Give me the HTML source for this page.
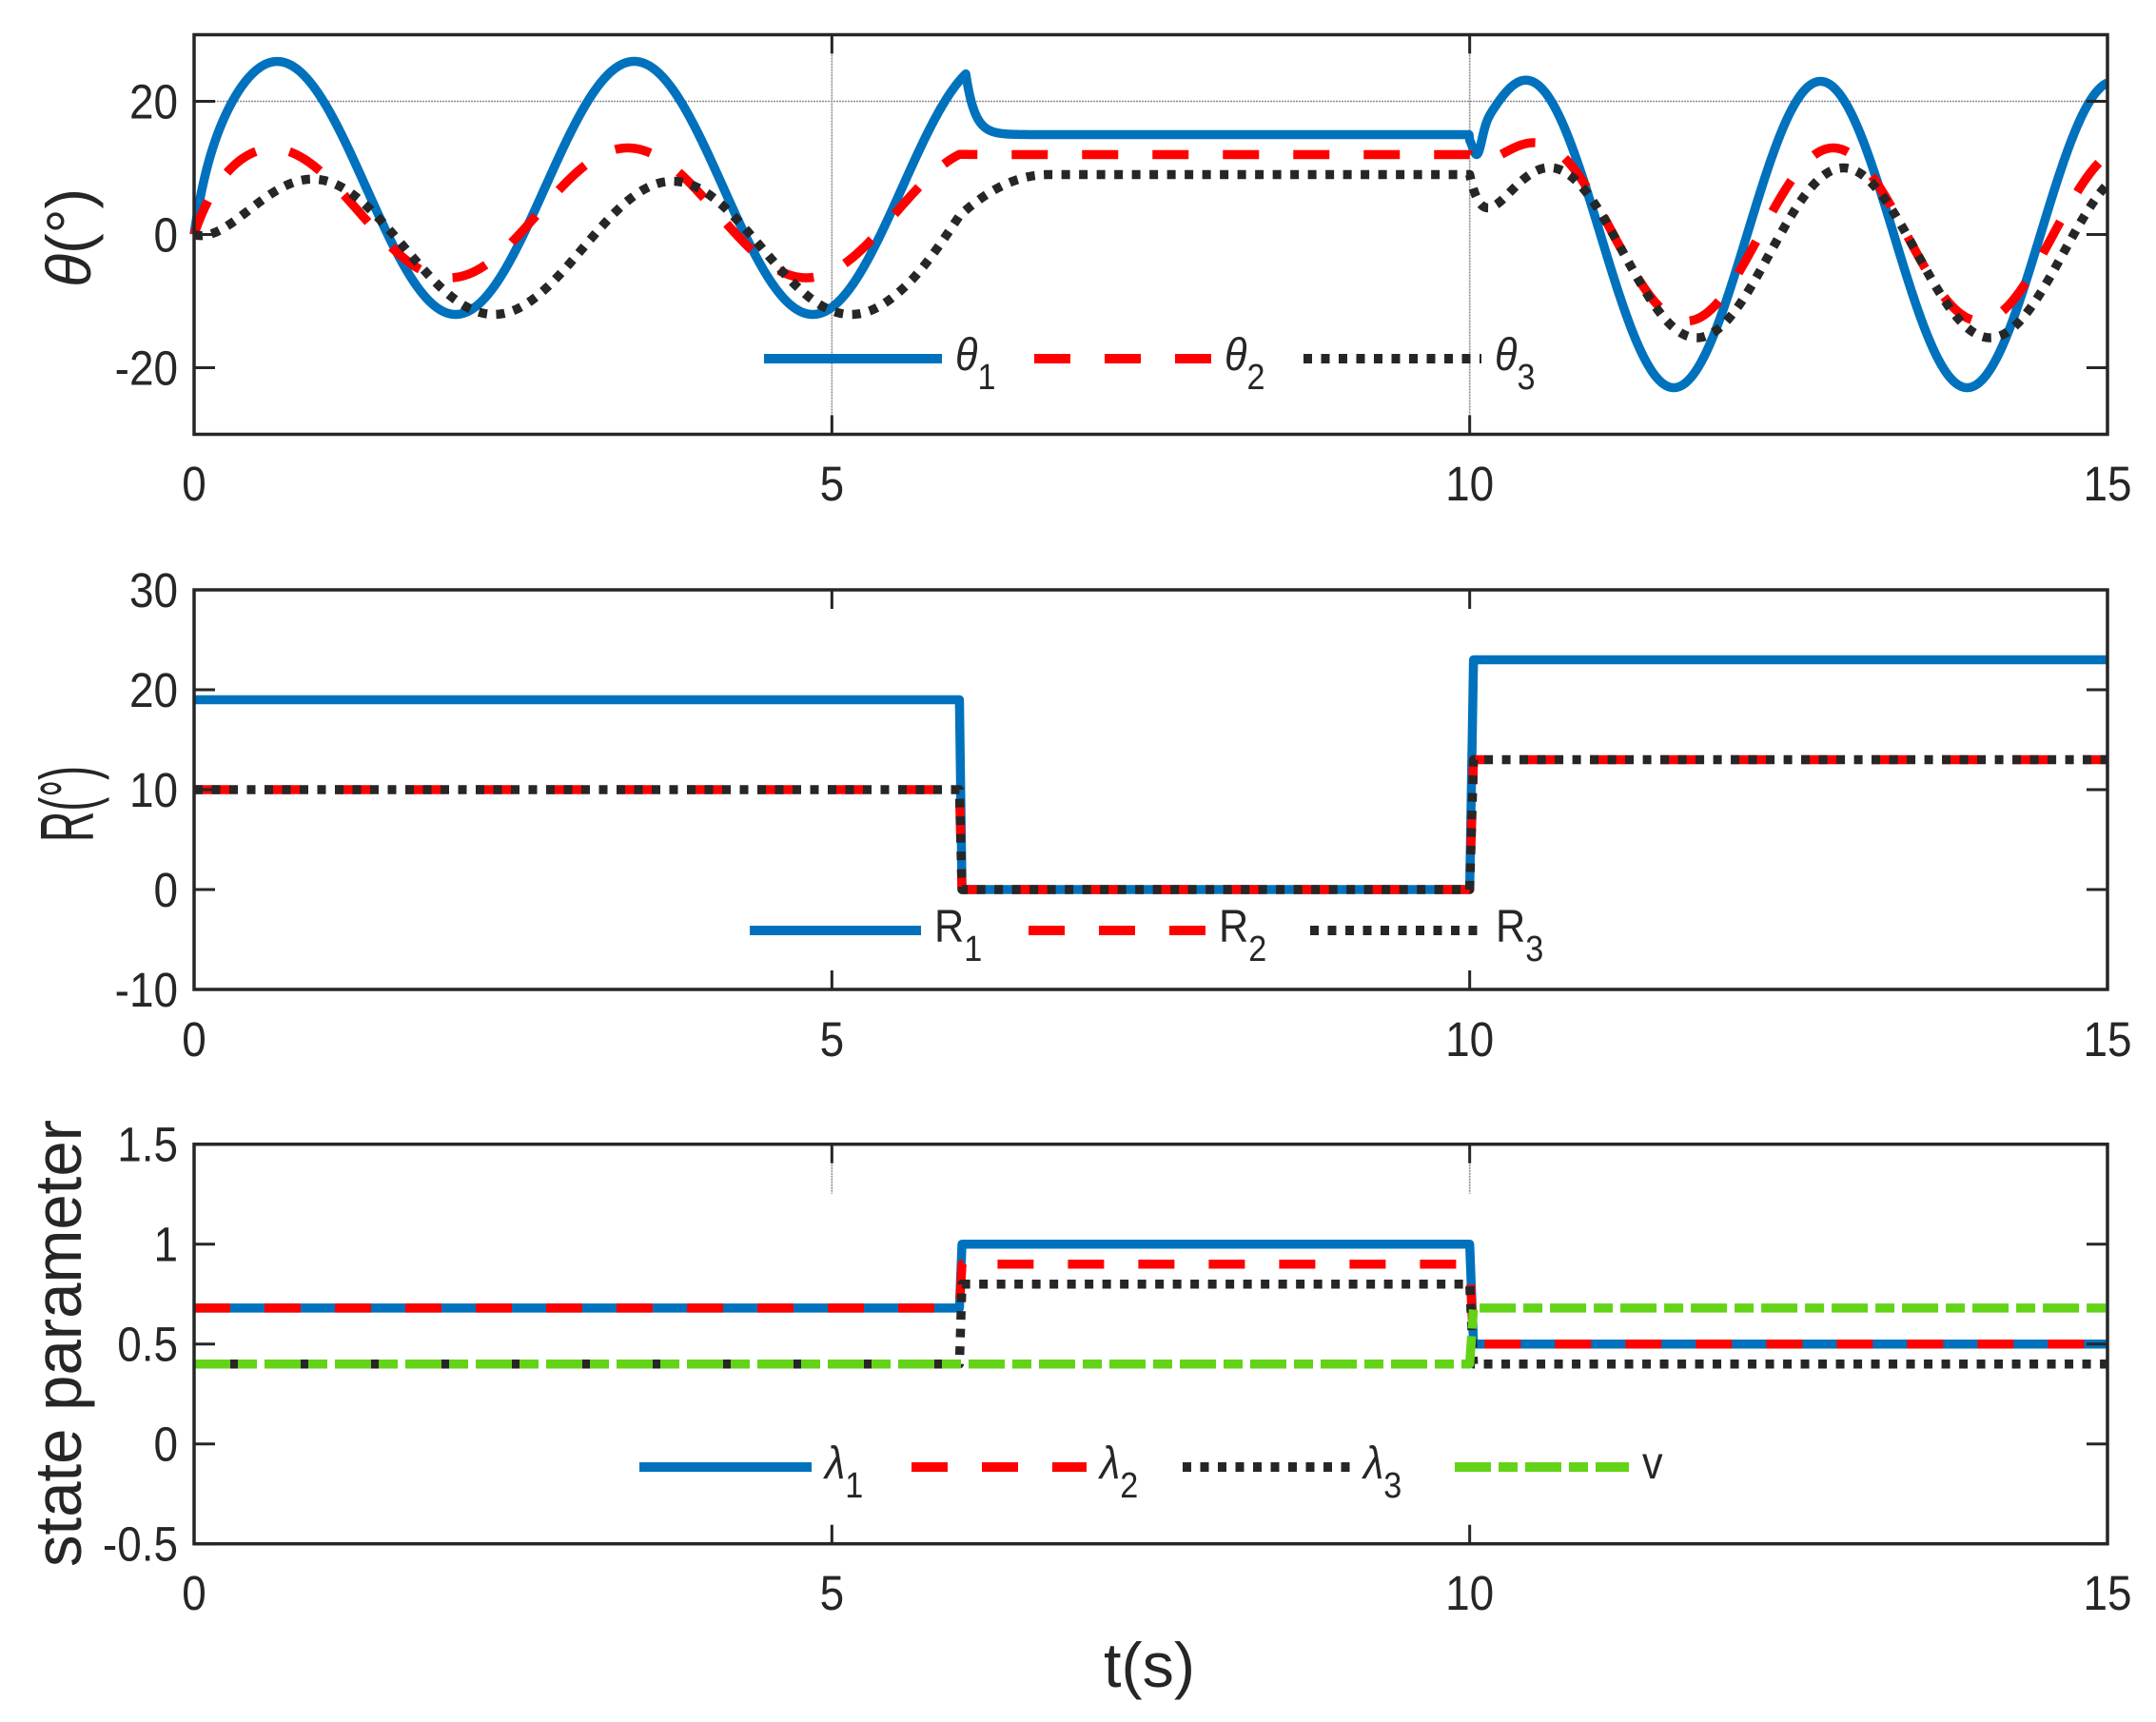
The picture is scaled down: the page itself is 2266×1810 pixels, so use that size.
<!DOCTYPE html>
<html><head><meta charset="utf-8"><style>
html,body{margin:0;padding:0;background:#fff;}
svg{display:block;}
text{font-family:"Liberation Sans",Arial,sans-serif;fill:#262626;}
</style></head><body>
<svg id="s" width="2266" height="1810" viewBox="0 0 2266 1810" xmlns="http://www.w3.org/2000/svg"></svg>
<script>
var S=document.getElementById('s'),NS='http://www.w3.org/2000/svg';
function el(n,a,p){var e=document.createElementNS(NS,n);for(var k in a)e.setAttribute(k,a[k]);(p||S).appendChild(e);return e;}
var X0=204,X1=2215;function X(t){return X0+(X1-X0)*t/15;}
var P=[{top:36.5,bot:456.5,lo:-30,hi:30},{top:620,bot:1040,lo:-10,hi:30},{top:1202.7,bot:1622.7,lo:-0.5,hi:1.5}];
function Y(i,v){var p=P[i];return p.bot-(v-p.lo)*(p.bot-p.top)/(p.hi-p.lo);}
function txt(x,y,s,size,anchor,extra){var g=el('g',{transform:'translate('+x+','+y+') scale(0.9,1)'});var t=el('text',Object.assign({x:0,y:0,'font-size':size,'text-anchor':anchor||'start'},extra||{}),g);t.textContent=s;return t;}
var C={b:'#0072BD',r:'#FF0000',k:'#262626',g:'#63D317'};
var DS={b:'none',r:'38 36',k:'9 9.5',g:'38 8 20 8'};
function path(i,fn,t0,t1,col,n){var d='';n=n||1500;for(var j=0;j<=n;j++){var t=t0+(t1-t0)*j/n;d+=(j?'L':'M')+X(t).toFixed(2)+','+Y(i,fn(t)).toFixed(2);}
 el('path',{d:d,fill:'none',stroke:C[col],'stroke-width':9.5,'stroke-dasharray':DS[col],'stroke-linejoin':'round'});}
function pts(i,arr,col){var d='';arr.forEach(function(a,j){d+=(j?'L':'M')+X(a[0]).toFixed(2)+','+Y(i,a[1]).toFixed(2);});
 el('path',{d:d,fill:'none',stroke:C[col],'stroke-width':9.5,'stroke-dasharray':DS[col],'stroke-linejoin':'round'});}
var gs={stroke:'#8a8a8a','stroke-width':1.6,'stroke-dasharray':'2 1'};
el('line',Object.assign({x1:X0,x2:X1,y1:Y(0,20),y2:Y(0,20)},gs));
[5,10].forEach(function(t){el('line',Object.assign({x1:X(t),x2:X(t),y1:P[0].top,y2:P[0].bot},gs));
 el('line',Object.assign({x1:X(t),x2:X(t),y1:P[2].top,y2:P[2].top+52},gs));});
var w1=2*Math.PI/2.8,w2=2*Math.PI/2.3;
function a1(t){return 7+19*Math.sin(w1*(t+0.05))-9.13*Math.exp(-t/0.1);}
function a2(t){return 3.25+9.75*Math.sin(w1*(t+0.1))-5.4*Math.exp(-t/0.15);}
function a3(t){return -2+10*Math.sin(w1*(t-0.25))+7.3*Math.exp(-t/0.3);}
function b1(t){return 23*Math.sin(w2*(t-9.875));}
function b2(t){return 13*Math.sin(w2*(t-9.975));}
function b3(t){return -2.75+12.75*Math.sin(w2*(t-10.055));}
function th1(t){if(t<6.05)return a1(t);if(t<10)return 15+(a1(6.05)-15)*Math.exp(-(t-6.05)/0.07);
 return b1(t)+(15-b1(10))*Math.exp(-(t-10)/0.12)-3.5*Math.exp(-Math.pow((t-10.06)/0.05,2));}
function th2(t){if(t<6)return a2(t);if(t<10)return 12+(a2(6)-12)*Math.exp(-(t-6)/0.25);
 return b2(t)+(12-b2(10))*Math.exp(-(t-10)/0.2);}
function th3(t){if(t<5.6)return a3(t);
 if(t<6){var q=(t-5.6)/0.4;return a3(t)+1.5*q*q;}
 if(t<10){var u=(t-6)/0.7;u=Math.min(1,u);var s=u*(2-u);var v0=a3(6)+1.5;return v0+(9-v0)*s;}
 return b3(t)+(9-b3(10))*Math.exp(-(t-10)/0.11);}
path(0,th1,0,15,'b',3000);path(0,th2,0,15,'r',3000);path(0,th3,0,15,'k',3000);
pts(1,[[0,19],[6,19],[6.02,0],[10,0],[10.03,23],[15,23]],'b');
pts(1,[[0,10],[6,10],[6.02,0],[10,0],[10.03,13],[15,13]],'r');
pts(1,[[0,10],[6,10],[6.02,0],[10,0],[10.03,13],[15,13]],'k');
pts(2,[[0,0.68],[6,0.68],[6.02,1],[10,1],[10.03,0.5],[15,0.5]],'b');
pts(2,[[0,0.68],[6,0.68],[6.02,0.9],[10,0.9],[10.03,0.5],[15,0.5]],'r');
pts(2,[[0,0.4],[6,0.4],[6.02,0.8],[10,0.8],[10.03,0.4],[15,0.4]],'k');
pts(2,[[0,0.4],[10,0.4],[10.03,0.68],[15,0.68]],'g');
var yt=[[20,0,-20],[30,20,10,0,-10],[1.5,1,0.5,0,-0.5]];
var xlab=[526,1110,1692];
P.forEach(function(p,i){
 el('rect',{x:X0,y:p.top,width:X1-X0,height:p.bot-p.top,fill:'none',stroke:'#262626','stroke-width':3.5});
 [0,5,10,15].forEach(function(t){var x=X(t);
  el('line',{x1:x,x2:x,y1:p.bot,y2:p.bot-20,stroke:'#262626','stroke-width':3});
  el('line',{x1:x,x2:x,y1:p.top,y2:p.top+20,stroke:'#262626','stroke-width':3});
  txt(x,xlab[i],String(t),51,'middle');});
 yt[i].forEach(function(v){var y=Y(i,v);
  el('line',{x1:X0,x2:X0+22,y1:y,y2:y,stroke:'#262626','stroke-width':3});
  el('line',{x1:X1,x2:X1-22,y1:y,y2:y,stroke:'#262626','stroke-width':3});
  txt(187,y+18,String(v),51,'end');});
});
function leg(y,items){items.forEach(function(it){
 el('line',{x1:it[0],x2:it[1],y1:y,y2:y,stroke:C[it[2]],'stroke-width':10,'stroke-dasharray':DS[it[2]]});
 var t=txt(it[1]+14,y+12,'',48,'start');
 var s1=el('tspan',{'font-style':it[5]?'italic':'normal'},t);s1.textContent=it[3];
 if(it[4]){var s2=el('tspan',{dy:20,'font-size':38},t);s2.textContent=it[4];}
});}
leg(377,[[803,990,'b','θ','1',1],[1087,1273,'r','θ','2',1],[1370,1557,'k','θ','3',1]]);
leg(978,[[788,968,'b','R','1',0],[1081,1267,'r','R','2',0],[1377,1558,'k','R','3',0]]);
leg(1542,[[672,853,'b','λ','1',1],[958,1142,'r','λ','2',1],[1243,1419,'k','λ','3',1],[1529,1712,'g','v','',0]]);
function rot(x,y,s,size,len,italicFirst){var t=el('text',{x:0,y:0,'font-size':size,'text-anchor':'middle',transform:'translate('+x+','+y+') rotate(-90)',textLength:len,lengthAdjust:'spacingAndGlyphs'});
 if(italicFirst){var a=el('tspan',{'font-style':'italic'},t);a.textContent=s[0];var b=el('tspan',{},t);b.textContent=s.slice(1);}else t.textContent=s;}
rot(95,250,'θ(°)',66,104,true);
rot(98,845,'R(°)',80,80,false);
rot(85,1412,'state parameter',70,470,false);
var tl=el('text',{x:1208,y:1773,'font-size':66,'text-anchor':'middle',textLength:96,lengthAdjust:'spacingAndGlyphs'});tl.textContent='t(s)';
</script>
</body></html>
